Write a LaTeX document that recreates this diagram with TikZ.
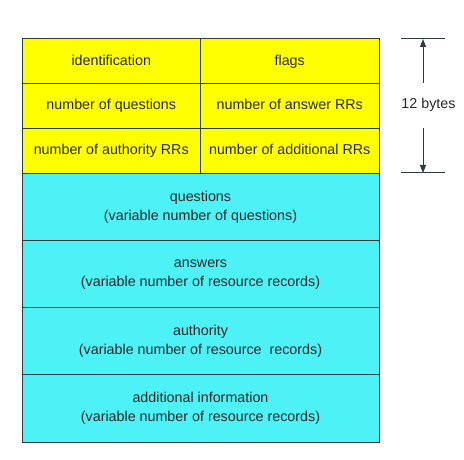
\documentclass[tikz,border=0pt]{standalone}
\usepackage{fontspec}
\setmainfont{Liberation Sans}
\usetikzlibrary{arrows.meta}
\definecolor{hdryellow}{RGB}{255,255,0}
\definecolor{bodycyan}{RGB}{77,242,247}
\definecolor{edgegray}{RGB}{45,60,60}
\definecolor{txtgray}{RGB}{40,40,40}
\tikzset{hdrbox/.style={draw=edgegray,fill=hdryellow,minimum width=178.5pt,minimum height=44.67pt,inner sep=0,outer sep=0,text height=10.5pt,text depth=3pt,text=txtgray,font=\fontsize{14.3}{19}\selectfont},
 bodybox/.style={draw=edgegray,fill=bodycyan,minimum width=357pt,minimum height=67.25pt,inner sep=0,outer sep=0,align=center,text=txtgray,font=\fontsize{14.3}{19}\selectfont}}
\begin{document}
\begin{tikzpicture}[x=1pt,y=-1pt,line width=1pt]
 \useasboundingbox (0,0) rectangle (464,460);
 \node[hdrbox] (ident) at (111.25,61.33) {identification};
 \node[hdrbox] (flags) at (289.75,61.33) {flags};
 \node[hdrbox] (nquest) at (111.25,106) {number of questions};
 \node[hdrbox] (nansw) at (289.75,106) {number of answer RRs};
 \node[hdrbox] (nauth) at (111.25,150.67) {number of authority RRs};
 \node[hdrbox] (naddl) at (289.75,150.67) {number of additional RRs};
 \node[bodybox] (quest) at (200.5,207.5) {questions\\(variable number of questions)};
 \node[bodybox] (answ) at (200.5,274.5) {answers\\(variable number of resource records)};
 \node[bodybox] (auth) at (200.5,341.5) {authority\\(variable number of resource\ \ records)};
 \node[bodybox] (addl) at (200.5,408.5) {additional information\\(variable number of resource records)};
 \coordinate (brtl) at (401,39);
 \coordinate (brtr) at (445,39);
 \coordinate (brbl) at (401,173);
 \coordinate (brbr) at (445,173);
 \coordinate (uptop) at (423,39);
 \coordinate (upbot) at (423,83);
 \coordinate (dntop) at (423,128);
 \coordinate (dnbot) at (423,173);
 \node[text=txtgray,font=\fontsize{14.3}{19}\selectfont] (size) at (428.5,105) {12 bytes};
 \draw[edgegray] (brtl) -- (brtr) (brbl) -- (brbr);
 \draw[edgegray,-{Triangle[length=8pt,width=6pt]}] (upbot) -- (uptop);
 \draw[edgegray,-{Triangle[length=8pt,width=6pt]}] (dntop) -- (dnbot);
\end{tikzpicture}
\end{document}
